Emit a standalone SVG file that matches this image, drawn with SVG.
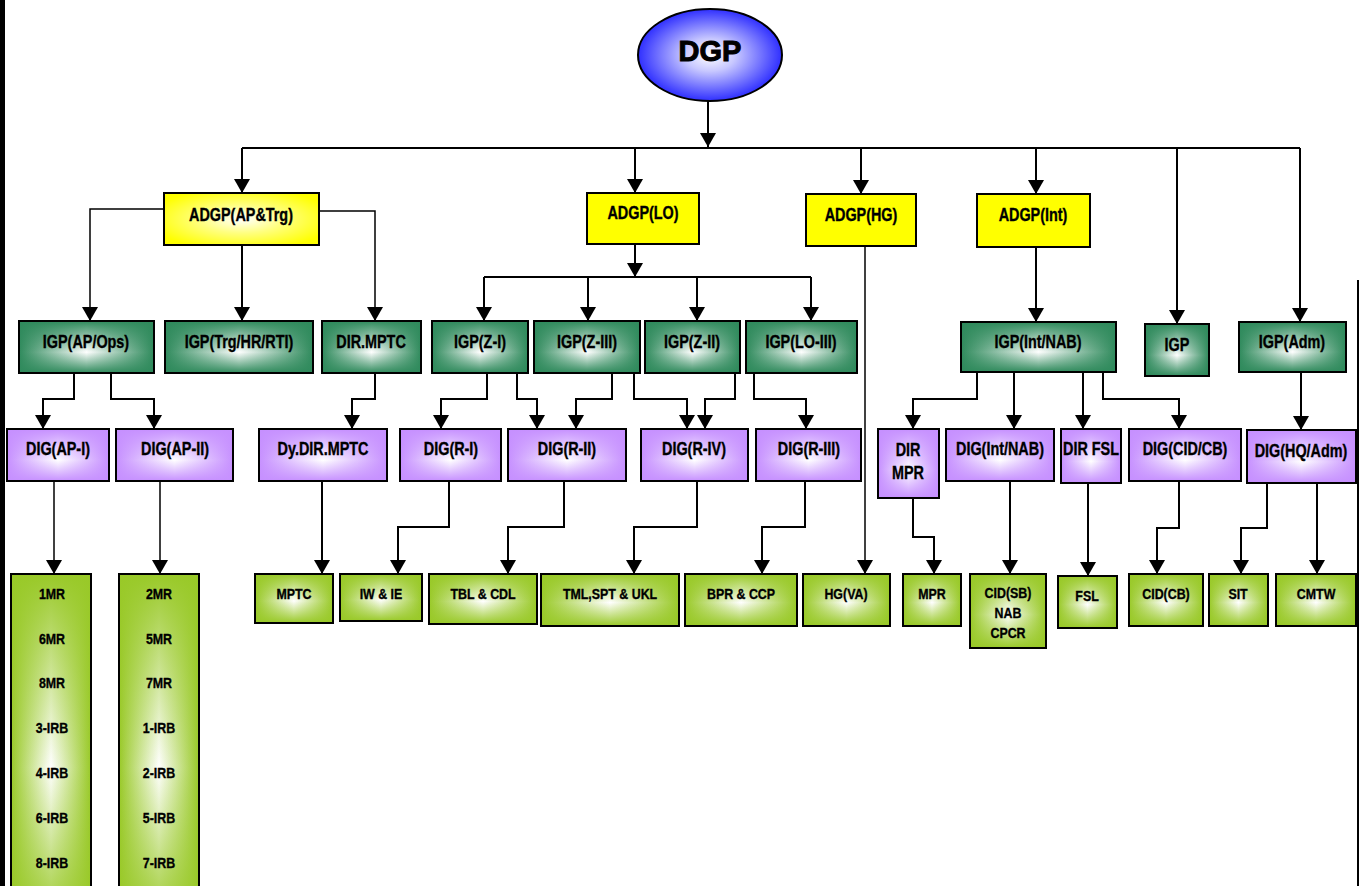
<svg xmlns="http://www.w3.org/2000/svg" width="1359" height="886" viewBox="0 0 1359 886">
  <style>
    .box { stroke: #000; stroke-width: 2; }
    .t { font-family: "Liberation Sans", Arial, sans-serif; font-weight: bold; font-size: 18px; text-anchor: middle; fill: #000;
         stroke: #000; stroke-width: 0.35;
         transform-box: fill-box; transform-origin: center; transform: scaleX(0.8); }
    .s { font-size: 15.5px; }
    .conn { fill: none; stroke: #000; stroke-width: 2; marker-end: url(#ah); }
    .bus { fill: none; stroke: #000; stroke-width: 2; }
    .thin { stroke-width: 1.5; }
    .igpH { fill: url(#igpH); } .igpV { fill: url(#igpV); }
    .digH { fill: url(#digH); } .digV { fill: url(#digV); }
    .lgH { fill: url(#lgH); } .lgV { fill: url(#lgV); }
    .ylw { fill: #ffff00; }
  </style>
  <defs>
    <marker id="ah" viewBox="0 0 14 16" refX="14" refY="8" markerWidth="14" markerHeight="16" markerUnits="userSpaceOnUse" orient="auto">
      <path d="M0,0 L14,8 L0,16 z" fill="#000"/>
    </marker>
    <radialGradient id="dgpFill" cx="0.5" cy="0.5" r="0.5">
      <stop offset="0" stop-color="#ffffff"/>
      <stop offset="0.35" stop-color="#c8c8ff"/>
      <stop offset="1" stop-color="#2f2fff"/>
    </radialGradient>
    <radialGradient id="ylwFill" cx="0.5" cy="0.5" r="0.6">
      <stop offset="0" stop-color="#ffffff"/>
      <stop offset="0.45" stop-color="#ffff80"/>
      <stop offset="1" stop-color="#ffff00"/>
    </radialGradient>
    <linearGradient id="igpH" x1="0" y1="0" x2="1" y2="0">
      <stop offset="0" stop-color="#2f8a5c"/>
      <stop offset="0.5" stop-color="#ffffff"/>
      <stop offset="1" stop-color="#2f8a5c"/>
    </linearGradient>
    <linearGradient id="igpV" x1="0" y1="0" x2="0" y2="1">
      <stop offset="0" stop-color="#2f8a5c"/>
      <stop offset="0.6" stop-color="#2f8a5c" stop-opacity="0"/>
      <stop offset="1" stop-color="#2f8a5c"/>
    </linearGradient>
    <linearGradient id="digH" x1="0" y1="0" x2="1" y2="0">
      <stop offset="0" stop-color="#c690ff"/>
      <stop offset="0.5" stop-color="#ffffff"/>
      <stop offset="1" stop-color="#c690ff"/>
    </linearGradient>
    <linearGradient id="digV" x1="0" y1="0" x2="0" y2="1">
      <stop offset="0" stop-color="#c690ff"/>
      <stop offset="0.6" stop-color="#c690ff" stop-opacity="0"/>
      <stop offset="1" stop-color="#c690ff"/>
    </linearGradient>
    <linearGradient id="lgH" x1="0" y1="0" x2="1" y2="0">
      <stop offset="0" stop-color="#99c928"/>
      <stop offset="0.5" stop-color="#ffffff"/>
      <stop offset="1" stop-color="#99c928"/>
    </linearGradient>
    <linearGradient id="lgV" x1="0" y1="0" x2="0" y2="1">
      <stop offset="0" stop-color="#99c928"/>
      <stop offset="0.55" stop-color="#99c928" stop-opacity="0"/>
      <stop offset="1" stop-color="#99c928"/>
    </linearGradient>
  </defs>

  <rect width="1359" height="886" fill="#ffffff"/>
  <!-- page frame edges -->
  <rect x="0" y="0" width="5" height="886" fill="#000"/>
  <line x1="1358" y1="280" x2="1358" y2="886" stroke="#000" stroke-width="2"/>

  <g id="connectors">
    <!-- top level -->
    <polyline class="conn" points="708,101 708,147"/>
    <polyline class="bus" points="242,148 1300,148"/>
    <polyline class="conn" points="242,148 242,193"/>
    <polyline class="conn" points="635,148 635,193"/>
    <polyline class="conn" points="861,148 861,194"/>
    <polyline class="conn" points="1036,148 1036,194"/>
    <polyline class="conn" points="1177,148 1177,324"/>
    <polyline class="conn" points="1300,148 1300,322"/>
    <!-- ADGP(AP&Trg) -->
    <polyline class="conn thin" points="164,209 90,209 90,321"/>
    <polyline class="conn" points="242,245 242,321"/>
    <polyline class="conn thin" points="319,211 375,211 375,321"/>
    <!-- ADGP(LO) -->
    <polyline class="conn" points="635,244 635,277"/>
    <polyline class="bus" points="484,277 811,277"/>
    <polyline class="conn" points="484,277 484,321"/>
    <polyline class="conn" points="588,277 588,321"/>
    <polyline class="conn" points="697,277 697,321"/>
    <polyline class="conn" points="811,277 811,321"/>
    <!-- ADGP(HG) -->
    <polyline class="conn thin" points="865,246 865,574"/>
    <!-- ADGP(Int) -->
    <polyline class="conn" points="1036,247 1036,322"/>
    <!-- second to third level -->
    <polyline class="conn" points="74,373 74,399 43,399 43,429"/>
    <polyline class="conn" points="111,373 111,399 154,399 154,429"/>
    <polyline class="conn" points="375,373 375,399 352,399 352,429"/>
    <polyline class="conn" points="487,373 487,399 441,399 441,429"/>
    <polyline class="conn" points="517,373 517,399 537,399 537,429"/>
    <polyline class="conn" points="612,373 612,399 576,399 576,429"/>
    <polyline class="conn" points="634,373 634,399 687,399 687,429"/>
    <polyline class="conn" points="735,373 735,399 705,399 705,429"/>
    <polyline class="conn" points="754,373 754,399 806,399 806,429"/>
    <polyline class="conn" points="977,372 977,399 913,399 913,429"/>
    <polyline class="conn" points="1014,372 1014,429"/>
    <polyline class="conn" points="1083,372 1083,429"/>
    <polyline class="conn" points="1103,372 1103,399 1179,399 1179,429"/>
    <polyline class="conn" points="1301,372 1301,430"/>
    <!-- third to fourth level -->
    <polyline class="conn thin" points="54,481 54,574"/>
    <polyline class="conn thin" points="160,481 160,574"/>
    <polyline class="conn" points="322,481 322,574"/>
    <polyline class="conn" points="449,481 449,527 398,527 398,574"/>
    <polyline class="conn" points="564,481 564,527 508,527 508,574"/>
    <polyline class="conn" points="697,481 697,527 634,527 634,574"/>
    <polyline class="conn" points="805,481 805,527 762,527 762,574"/>
    <polyline class="conn" points="913,498 913,537 934,537 934,574"/>
    <polyline class="conn" points="1010,481 1010,574"/>
    <polyline class="conn" points="1088,483 1088,576"/>
    <polyline class="conn" points="1179,481 1179,528 1157,528 1157,574"/>
    <polyline class="conn" points="1267,483 1267,528 1241,528 1241,574"/>
    <polyline class="conn" points="1317,483 1317,574"/>
  </g>

  <g id="dgp">
    <ellipse cx="710" cy="55" rx="72" ry="46" fill="url(#dgpFill)" stroke="#000" stroke-width="2"/>
    <text x="710" y="61" style="font-family:'Liberation Sans',Arial,sans-serif;font-weight:bold;font-size:29px;text-anchor:middle;stroke:#000;stroke-width:1">DGP</text>
  </g>

  <!-- ADGP level -->
  <g id="adgp-ap-trg">
    <rect class="box" x="164" y="193" width="155" height="52" fill="url(#ylwFill)"/>
    <text class="t" x="241" y="221">ADGP(AP&amp;Trg)</text>
  </g>
  <g id="adgp-lo">
    <rect class="box ylw" x="587" y="193" width="112" height="51"/>
    <text class="t" x="643" y="219">ADGP(LO)</text>
  </g>
  <g id="adgp-hg">
    <rect class="box ylw" x="806" y="194" width="110" height="52"/>
    <text class="t" x="861" y="221">ADGP(HG)</text>
  </g>
  <g id="adgp-int">
    <rect class="box ylw" x="977" y="194" width="113" height="53"/>
    <text class="t" x="1033" y="221">ADGP(Int)</text>
  </g>

  <!-- IGP level -->
  <g id="igp-ap-ops">
    <rect class="igpH" x="19" y="321" width="135" height="52"/><rect class="box igpV" x="19" y="321" width="135" height="52"/>
    <text class="t" x="86" y="348">IGP(AP/Ops)</text>
  </g>
  <g id="igp-trg">
    <rect class="igpH" x="165" y="321" width="148" height="52"/><rect class="box igpV" x="165" y="321" width="148" height="52"/>
    <text class="t" x="239" y="348">IGP(Trg/HR/RTI)</text>
  </g>
  <g id="dir-mptc">
    <rect class="igpH" x="322" y="321" width="99" height="52"/><rect class="box igpV" x="322" y="321" width="99" height="52"/>
    <text class="t" x="371" y="348">DIR.MPTC</text>
  </g>
  <g id="igp-z1">
    <rect class="igpH" x="432" y="321" width="96" height="52"/><rect class="box igpV" x="432" y="321" width="96" height="52"/>
    <text class="t" x="480" y="348">IGP(Z-I)</text>
  </g>
  <g id="igp-z3">
    <rect class="igpH" x="534" y="321" width="106" height="52"/><rect class="box igpV" x="534" y="321" width="106" height="52"/>
    <text class="t" x="587" y="348">IGP(Z-III)</text>
  </g>
  <g id="igp-z2">
    <rect class="igpH" x="645" y="321" width="95" height="52"/><rect class="box igpV" x="645" y="321" width="95" height="52"/>
    <text class="t" x="692" y="348">IGP(Z-II)</text>
  </g>
  <g id="igp-lo3">
    <rect class="igpH" x="746" y="321" width="111" height="52"/><rect class="box igpV" x="746" y="321" width="111" height="52"/>
    <text class="t" x="801" y="348">IGP(LO-III)</text>
  </g>
  <g id="igp-int-nab">
    <rect class="igpH" x="961" y="322" width="155" height="50"/><rect class="box igpV" x="961" y="322" width="155" height="50"/>
    <text class="t" x="1038" y="348">IGP(Int/NAB)</text>
  </g>
  <g id="igp">
    <rect class="igpH" x="1145" y="324" width="64" height="52"/><rect class="box igpV" x="1145" y="324" width="64" height="52"/>
    <text class="t" x="1177" y="351">IGP</text>
  </g>
  <g id="igp-adm">
    <rect class="igpH" x="1239" y="322" width="107" height="50"/><rect class="box igpV" x="1239" y="322" width="107" height="50"/>
    <text class="t" x="1292" y="348">IGP(Adm)</text>
  </g>

  <!-- DIG level -->
  <g id="dig-ap1">
    <rect class="digH" x="7" y="429" width="102" height="52"/><rect class="box digV" x="7" y="429" width="102" height="52"/>
    <text class="t" x="58" y="455">DIG(AP-I)</text>
  </g>
  <g id="dig-ap2">
    <rect class="digH" x="116" y="429" width="117" height="52"/><rect class="box digV" x="116" y="429" width="117" height="52"/>
    <text class="t" x="175" y="455">DIG(AP-II)</text>
  </g>
  <g id="dy-dir-mptc">
    <rect class="digH" x="259" y="429" width="128" height="52"/><rect class="box digV" x="259" y="429" width="128" height="52"/>
    <text class="t" x="323" y="455">Dy.DIR.MPTC</text>
  </g>
  <g id="dig-r1">
    <rect class="digH" x="400" y="429" width="101" height="52"/><rect class="box digV" x="400" y="429" width="101" height="52"/>
    <text class="t" x="451" y="455">DIG(R-I)</text>
  </g>
  <g id="dig-r2">
    <rect class="digH" x="508" y="429" width="118" height="52"/><rect class="box digV" x="508" y="429" width="118" height="52"/>
    <text class="t" x="567" y="455">DIG(R-II)</text>
  </g>
  <g id="dig-r4">
    <rect class="digH" x="641" y="429" width="107" height="52"/><rect class="box digV" x="641" y="429" width="107" height="52"/>
    <text class="t" x="694" y="455">DIG(R-IV)</text>
  </g>
  <g id="dig-r3">
    <rect class="digH" x="756" y="429" width="105" height="52"/><rect class="box digV" x="756" y="429" width="105" height="52"/>
    <text class="t" x="809" y="455">DIG(R-III)</text>
  </g>
  <g id="dir-mpr">
    <rect class="digH" x="878" y="429" width="61" height="69"/><rect class="box digV" x="878" y="429" width="61" height="69"/>
    <text class="t" x="908" y="456">DIR</text>
    <text class="t" x="908" y="479">MPR</text>
  </g>
  <g id="dig-int-nab">
    <rect class="digH" x="946" y="429" width="108" height="52"/><rect class="box digV" x="946" y="429" width="108" height="52"/>
    <text class="t" x="1000" y="455">DIG(Int/NAB)</text>
  </g>
  <g id="dir-fsl">
    <rect class="digH" x="1061" y="429" width="60" height="54"/><rect class="box digV" x="1061" y="429" width="60" height="54"/>
    <text class="t" x="1091" y="455">DIR FSL</text>
  </g>
  <g id="dig-cid-cb">
    <rect class="digH" x="1129" y="429" width="112" height="52"/><rect class="box digV" x="1129" y="429" width="112" height="52"/>
    <text class="t" x="1185" y="455">DIG(CID/CB)</text>
  </g>
  <g id="dig-hq-adm">
    <rect class="digH" x="1247" y="430" width="109" height="53"/><rect class="box digV" x="1247" y="430" width="109" height="53"/>
    <text class="t" x="1301" y="457">DIG(HQ/Adm)</text>
  </g>

  <!-- unit level -->
  <g id="units-ap1">
    <rect class="lgH" x="11" y="574" width="80" height="352"/><rect class="box lgV" x="11" y="574" width="80" height="352"/>
    <text class="t s" x="52" y="599">1MR</text>
    <text class="t s" x="52" y="644">6MR</text>
    <text class="t s" x="52" y="688">8MR</text>
    <text class="t s" x="52" y="733">3-IRB</text>
    <text class="t s" x="52" y="778">4-IRB</text>
    <text class="t s" x="52" y="823">6-IRB</text>
    <text class="t s" x="52" y="868">8-IRB</text>
  </g>
  <g id="units-ap2">
    <rect class="lgH" x="119" y="574" width="80" height="352"/><rect class="box lgV" x="119" y="574" width="80" height="352"/>
    <text class="t s" x="159" y="599">2MR</text>
    <text class="t s" x="159" y="644">5MR</text>
    <text class="t s" x="159" y="688">7MR</text>
    <text class="t s" x="159" y="733">1-IRB</text>
    <text class="t s" x="159" y="778">2-IRB</text>
    <text class="t s" x="159" y="823">5-IRB</text>
    <text class="t s" x="159" y="868">7-IRB</text>
  </g>
  <g id="mptc">
    <rect class="lgH" x="255" y="574" width="78" height="49"/><rect class="box lgV" x="255" y="574" width="78" height="49"/>
    <text class="t s" x="294" y="599">MPTC</text>
  </g>
  <g id="iw-ie">
    <rect class="lgH" x="340" y="574" width="82" height="47"/><rect class="box lgV" x="340" y="574" width="82" height="47"/>
    <text class="t s" x="381" y="599">IW &amp; IE</text>
  </g>
  <g id="tbl-cdl">
    <rect class="lgH" x="429" y="574" width="108" height="50"/><rect class="box lgV" x="429" y="574" width="108" height="50"/>
    <text class="t s" x="483" y="599">TBL &amp; CDL</text>
  </g>
  <g id="tml-spt-ukl">
    <rect class="lgH" x="541" y="574" width="138" height="52"/><rect class="box lgV" x="541" y="574" width="138" height="52"/>
    <text class="t s" x="610" y="599">TML,SPT &amp; UKL</text>
  </g>
  <g id="bpr-ccp">
    <rect class="lgH" x="685" y="574" width="112" height="52"/><rect class="box lgV" x="685" y="574" width="112" height="52"/>
    <text class="t s" x="741" y="599">BPR &amp; CCP</text>
  </g>
  <g id="hg-va">
    <rect class="lgH" x="803" y="574" width="87" height="52"/><rect class="box lgV" x="803" y="574" width="87" height="52"/>
    <text class="t s" x="846" y="599">HG(VA)</text>
  </g>
  <g id="mpr">
    <rect class="lgH" x="903" y="574" width="58" height="52"/><rect class="box lgV" x="903" y="574" width="58" height="52"/>
    <text class="t s" x="932" y="599">MPR</text>
  </g>
  <g id="cid-sb">
    <rect class="lgH" x="970" y="574" width="76" height="74"/><rect class="box lgV" x="970" y="574" width="76" height="74"/>
    <text class="t s" x="1008" y="598">CID(SB)</text>
    <text class="t s" x="1008" y="618">NAB</text>
    <text class="t s" x="1008" y="638">CPCR</text>
  </g>
  <g id="fsl">
    <rect class="lgH" x="1058" y="576" width="59" height="52"/><rect class="box lgV" x="1058" y="576" width="59" height="52"/>
    <text class="t s" x="1087" y="601">FSL</text>
  </g>
  <g id="cid-cb">
    <rect class="lgH" x="1129" y="574" width="74" height="52"/><rect class="box lgV" x="1129" y="574" width="74" height="52"/>
    <text class="t s" x="1166" y="599">CID(CB)</text>
  </g>
  <g id="sit">
    <rect class="lgH" x="1209" y="574" width="59" height="52"/><rect class="box lgV" x="1209" y="574" width="59" height="52"/>
    <text class="t s" x="1238" y="599">SIT</text>
  </g>
  <g id="cmtw">
    <rect class="lgH" x="1276" y="574" width="80" height="52"/><rect class="box lgV" x="1276" y="574" width="80" height="52"/>
    <text class="t s" x="1316" y="599">CMTW</text>
  </g>
</svg>
